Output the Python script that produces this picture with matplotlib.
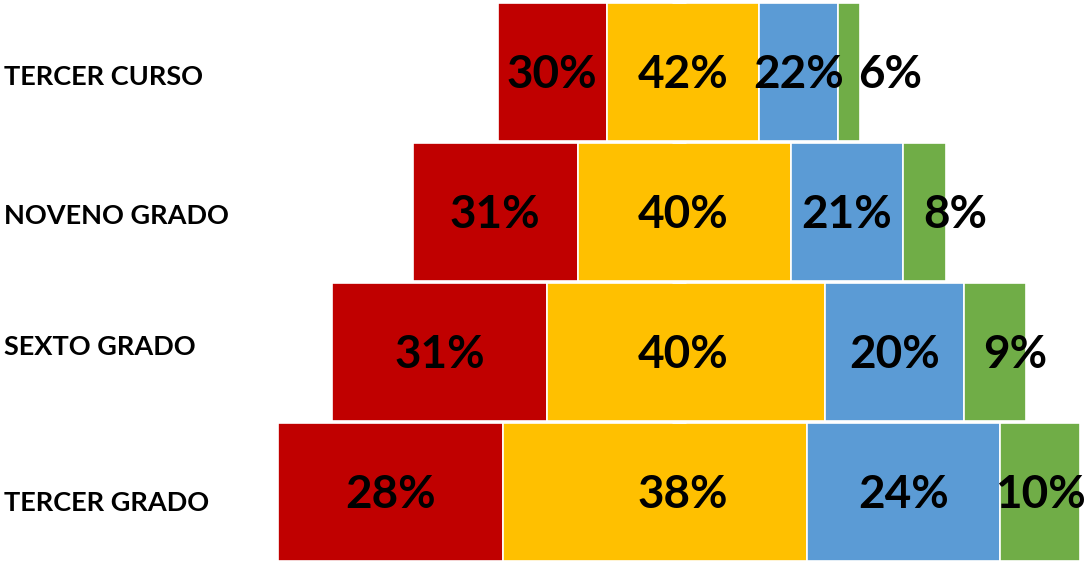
"""
plot.py

Centered stacked bar chart (pyramid) of percentages by school grade.
"""

import matplotlib
matplotlib.use("Agg")

import matplotlib.pyplot as plt
import matplotlib.transforms as mtransforms

# -----------------------------
# Data (bottom row first)
# -----------------------------
grados = ["TERCER GRADO", "SEXTO GRADO", "NOVENO GRADO", "TERCER CURSO"]

rojo = [28, 31, 31, 30]
amarillo = [38, 40, 40, 42]
azul = [24, 20, 21, 22]
verde = [10, 9, 8, 6]

# relative size of each row (total width of the bar)
totales = [802, 694, 533, 362]

COLORS = ["#C00000", "#FFC000", "#5B9BD5", "#70AD47"]

# small vertical nudges (points, downward) of the row names
LABEL_DY = [8, -3.5, 3, 3.5]

plt.rcParams["font.family"] = ["Lato", "DejaVu Sans"]

fig = plt.figure(figsize=(10.84, 5.62), dpi=100)
ax = fig.add_axes([0, 0, 1, 1])

x_min, x_max = -679, 405
ax.set_xlim(x_min, x_max)
ax.set_ylim(-0.5, 3.514)

series = [rojo, amarillo, azul, verde]

# percentage labels sit a few pixels under the bar middle
down = mtransforms.offset_copy(ax.transData, fig=fig, x=0, y=-2.5, units="points")

for i, total in enumerate(totales):

    left = -total / 2.0

    for k, serie in enumerate(series):

        width = total * serie[i] / 100.0

        ax.barh(
            i,
            width,
            left=left,
            height=0.986,
            color=COLORS[k],
            edgecolor="white",
            linewidth=1.2,
            zorder=2
        )

        center = left + width / 2.0

        # middle (yellow) label sits on the center line
        if k == 1:
            center = 4

        # green labels sit just right of the thin segment
        if k == 3:
            center = min(left + 52, x_max - 44)

        ax.text(
            center,
            i,
            f"{serie[i]}%",
            transform=down,
            ha="center",
            va="center",
            fontsize=33,
            fontweight="bold",
            color="black",
            zorder=5
        )

        left += width

# row names on the left
trans = mtransforms.blended_transform_factory(ax.transAxes, ax.transData)
for i, nombre in enumerate(grados):
    t = mtransforms.offset_copy(trans, fig=fig, x=0, y=-LABEL_DY[i], units="points")
    ax.text(
        0.004,
        i,
        nombre,
        transform=t,
        ha="left",
        va="center",
        fontsize=19.5,
        fontweight="bold",
        color="black"
    )

# small white ticks at the row boundaries on the center line
ax.spines["left"].set_position(("data", 0))
for side in ["left", "right", "top", "bottom"]:
    ax.spines[side].set_visible(False)

ax.set_xticks([])
ax.set_yticks([-0.5, 0.5, 1.5, 2.5, 3.5])
ax.tick_params(
    axis="y",
    direction="inout",
    length=10,
    width=2,
    color="white",
    labelleft=False
)
for tick in ax.yaxis.get_major_ticks():
    tick.tick1line.set_zorder(4)
ax.set_axisbelow(False)

plt.savefig("out.png", dpi=100)
plt.close()
